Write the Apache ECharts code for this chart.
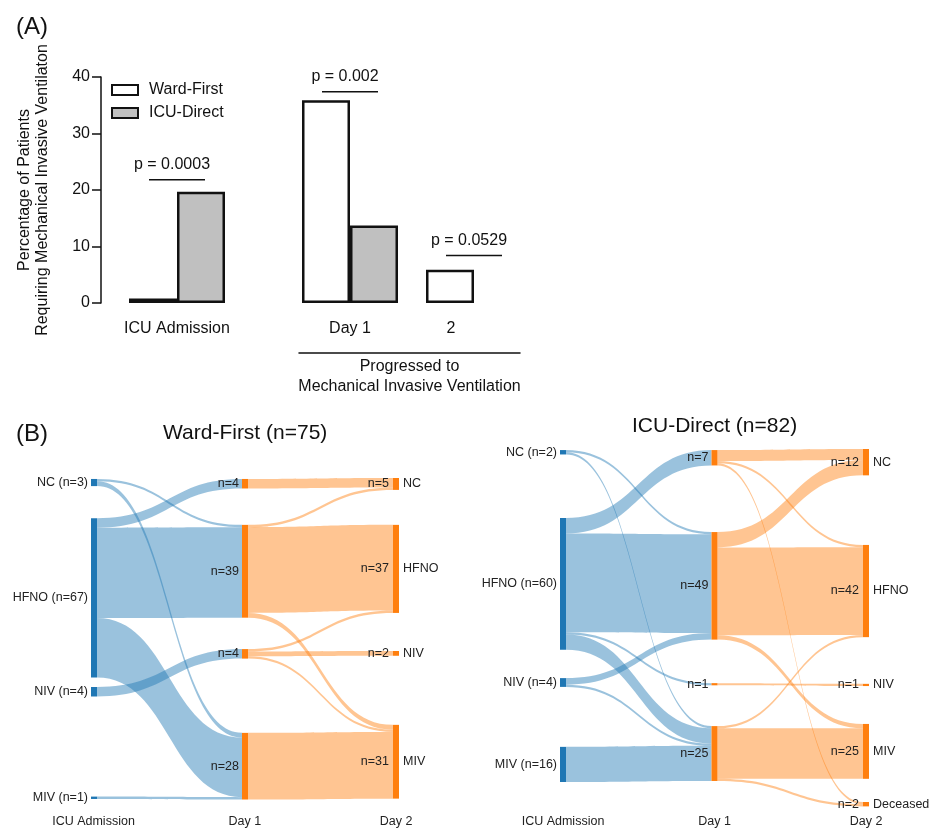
<!DOCTYPE html>
<html>
<head>
<meta charset="utf-8">
<script src="https://cdn.jsdelivr.net/npm/echarts@6/dist/echarts.min.js"></script>
<style>
  html, body { margin: 0; padding: 0; background: #fff; }
  #chart { width: 932px; height: 832px; }
</style>
</head>
<body>
<div id="chart"></div>
<script>
// (A) bar chart data — % of patients requiring mechanical invasive ventilation
const admissionCats = ["ICU Admission"];
const progressCats = ["Day 1", "2"];
const wardFirstAdmission = [0.8];
const icuDirectAdmission = [19.7];
const wardFirstProgressed = [35.9, 5.9];
const icuDirectProgressed = [13.7, null];
// p-value brackets: [category index, height (%)]
const pAdmission = [[0, 21.8]];
const pAdmissionText = ["p = 0.0003"];
const pProgressed = [[0, 37.4], [1, 8.4]];
const pProgressedText = ["p = 0.002", "p = 0.0529"];

// (B) sankey data
const columns = ["ICU Admission", "Day 1", "Day 2"];
const states = ["NC", "HFNO", "NIV", "MIV"];
const icuDay2States = ["NC", "HFNO", "NIV", "MIV", "Deceased"];

const wardAdmissionN = [3, 67, 4, 1];
const wardDay1N = [4, 39, 4, 28];
const wardDay2N = [5, 37, 2, 31];
const wardFlowsDay1 = [
  ["NC", "HFNO", 1], ["NC", "MIV", 2],
  ["HFNO", "NC", 4], ["HFNO", "HFNO", 38], ["HFNO", "MIV", 25],
  ["NIV", "NIV", 4],
  ["MIV", "MIV", 1]
];
const wardFlowsDay2 = [
  ["NC", "NC", 4],
  ["HFNO", "NC", 1], ["HFNO", "HFNO", 36], ["HFNO", "MIV", 2],
  ["NIV", "HFNO", 1], ["NIV", "NIV", 2], ["NIV", "MIV", 1],
  ["MIV", "MIV", 28]
];

const icuAdmissionN = [2, 60, 4, 16];
const icuDay1N = [7, 49, 1, 25];
const icuDay2N = [12, 42, 1, 25, 2];
const icuFlowsDay1 = [
  ["NC", "HFNO", 1], ["NC", "MIV", 1],
  ["HFNO", "NC", 7], ["HFNO", "HFNO", 45], ["HFNO", "NIV", 1], ["HFNO", "MIV", 7],
  ["NIV", "HFNO", 3], ["NIV", "MIV", 1],
  ["MIV", "MIV", 16]
];
const icuFlowsDay2 = [
  ["NC", "NC", 5], ["NC", "HFNO", 1], ["NC", "Deceased", 1],
  ["HFNO", "NC", 7], ["HFNO", "HFNO", 40], ["HFNO", "MIV", 2],
  ["NIV", "NIV", 1],
  ["MIV", "HFNO", 1], ["MIV", "MIV", 23], ["MIV", "Deceased", 1]
];

// node placement (top of each node as a fraction of the sankey height), per column
const wardNodeTop = [[0.003, 0.125, 0.651, 0.9925], [0.003, 0.146, 0.533, 0.794], [0, 0.146, 0.539, 0.769]];
const icuNodeTop = [[0.003, 0.193, 0.640, 0.832], [0.003, 0.232, 0.654, 0.774], [0, 0.268, 0.656, 0.768, 0.986]];

const FONT = "'Liberation Sans', Arial, sans-serif";
const INK = "#111";
const BLUE = "#1f77b4";
const ORANGE = "#ff7f0e";
const LABEL_SIZE = 12.5;

// rich labels on Day 2 nodes: "n=.." left of the node, state name right of it
const measureCtx = document.createElement("canvas").getContext("2d");
function textW(s) {
  measureCtx.font = LABEL_SIZE + "px 'Liberation Sans'";
  return measureCtx.measureText(s).width;
}
function twoSided(left, right) {
  const d = textW(left) - textW(right);
  const pad = "{p" + Math.round(Math.abs(d) * 10) + "| }";
  const core = "{l|" + left + "}{g| }{r|" + right + "}";
  return d < 0 ? pad + core : core + pad;
}

function sankeySeries(box, tops, admN, d1N, d2N, d2States, flows1, flows2) {
  const nodes = [];
  const rich = {};
  const txt = { fontSize: LABEL_SIZE, color: "#222", fontFamily: FONT };
  admN.forEach((n, i) => nodes.push({
    name: "A " + states[i], localY: tops[0][i],
    itemStyle: { color: BLUE },
    label: { position: "left", formatter: states[i] + " (n=" + n + ")" }
  }));
  d1N.forEach((n, i) => nodes.push({
    name: "D1 " + states[i], localY: tops[1][i],
    itemStyle: { color: ORANGE },
    label: { position: "left", formatter: "n=" + n }
  }));
  d2N.forEach((n, i) => {
    const f = twoSided("n=" + n, d2States[i]);
    const m = f.match(/\{p(\d+)\|/);
    rich["p" + m[1]] = Object.assign({ width: Number(m[1]) / 10 }, txt);
    nodes.push({
      name: "D2 " + d2States[i], localY: tops[2][i],
      itemStyle: { color: ORANGE },
      label: { position: "inside", formatter: f }
    });
  });
  rich.l = Object.assign({}, txt);
  rich.r = Object.assign({}, txt);
  rich.g = Object.assign({ width: 14 }, txt);
  const links = flows1.map(([s, t, v]) => ({ source: "A " + s, target: "D1 " + t, value: v }))
    .concat(flows2.map(([s, t, v]) => ({ source: "D1 " + s, target: "D2 " + t, value: v })));
  return {
    type: "sankey",
    left: box.left, top: box.top, width: box.width, height: box.height,
    nodeWidth: 6,
    nodeGap: box.gap,
    layoutIterations: 0,
    nodeAlign: "justify",
    draggable: false,
    emphasis: { disabled: true },
    itemStyle: { borderWidth: 0 },
    lineStyle: { color: "source", opacity: 0.45, curveness: 0.5 },
    label: Object.assign({ show: true, distance: 3, textBorderWidth: 0, rich: rich }, txt),
    data: nodes,
    links: links
  };
}

function renderBracket(texts) {
  return function (params, api) {
    const p = api.coord([api.value(0), api.value(1)]);
    return {
      type: "group",
      children: [
        { type: "line", shape: { x1: p[0] - 28, y1: p[1], x2: p[0] + 28, y2: p[1] },
          style: { stroke: INK, lineWidth: 1.5 } },
        { type: "text", x: p[0] - 5, y: p[1] - 15,
          style: { text: texts[params.dataIndex], fill: INK, fontSize: 16, fontFamily: FONT,
            align: "center", verticalAlign: "middle" } }
      ]
    };
  };
}

const barStyle = (fill) => ({ color: fill, borderColor: INK, borderWidth: 2.5 });
const hiddenY = (gi) => ({ type: "value", gridIndex: gi, min: 0, max: 40, show: false });
const colAxis = (gi) => ({
  type: "category", gridIndex: gi, data: columns, boundaryGap: false,
  axisLine: { show: false }, axisTick: { show: false },
  axisLabel: { color: "#222", fontSize: LABEL_SIZE, fontFamily: FONT, margin: 5 }
});

const chart = echarts.init(document.getElementById("chart"), null, { renderer: "canvas" });
chart.setOption({
  animation: false,
  backgroundColor: "#fff",
  textStyle: { fontFamily: FONT },
  title: [
    { text: "(A)", left: 11, top: 10, textStyle: { fontSize: 24, fontWeight: "normal", color: INK, fontFamily: FONT } },
    { text: "(B)", left: 11, top: 417, textStyle: { fontSize: 24, fontWeight: "normal", color: INK, fontFamily: FONT } },
    { text: "Ward-First (n=75)", left: 158, top: 418, textStyle: { fontSize: 21, fontWeight: "normal", color: INK, fontFamily: FONT } },
    { text: "ICU-Direct (n=82)", left: 627, top: 411, textStyle: { fontSize: 21, fontWeight: "normal", color: INK, fontFamily: FONT } }
  ],
  legend: {
    data: ["Ward-First", "ICU-Direct"],
    orient: "vertical", left: 111, top: 81, padding: 0,
    itemWidth: 26, itemHeight: 10, itemGap: 5,
    icon: "rect",
    itemStyle: { borderWidth: 2, borderColor: INK },
    textStyle: { fontSize: 16, color: INK, fontFamily: FONT, lineHeight: 18, padding: [0, 0, 0, 6] }
  },
  grid: [
    { left: 101, top: 77, width: 152, height: 226 },
    { left: 288, top: 77, width: 248, height: 226 },
    { left: 299, top: 77, width: 221, height: 226 },
    { left: 93.5, top: 790, width: 302.5, height: 20 },
    { left: 563, top: 790, width: 303, height: 20 }
  ],
  xAxis: [
    { type: "category", gridIndex: 0, data: admissionCats,
      axisLine: { show: false }, axisTick: { show: false },
      axisLabel: { color: INK, fontSize: 16, fontFamily: FONT, margin: 18 } },
    { type: "category", gridIndex: 1,
      data: [progressCats[0], { value: progressCats[1], textStyle: { padding: [0, 46, 0, 0] } }],
      axisLine: { show: false }, axisTick: { show: false },
      axisLabel: { color: INK, fontSize: 16, fontFamily: FONT, margin: 18 } },
    { type: "value", gridIndex: 2, min: 0, max: 1, offset: 50,
      axisLine: { show: true, onZero: false, lineStyle: { color: INK, width: 1.5 } },
      axisTick: { show: false }, axisLabel: { show: false }, splitLine: { show: false },
      name: "Progressed to\nMechanical Invasive Ventilation",
      nameLocation: "middle", nameGap: 4,
      nameTextStyle: { color: INK, fontSize: 16, fontFamily: FONT, lineHeight: 19.5, verticalAlign: "top" } },
    colAxis(3),
    colAxis(4)
  ],
  yAxis: [
    { type: "value", gridIndex: 0, min: 0, max: 40, interval: 10,
      axisLine: { show: true, lineStyle: { color: INK, width: 1.5 } },
      axisTick: { show: true, length: 9, lineStyle: { color: INK, width: 1.5 } },
      axisLabel: { color: INK, fontSize: 16, fontFamily: FONT, margin: 11 },
      splitLine: { show: false },
      name: "Percentage of Patients\nRequiring Mechanical Invasive Ventilaton",
      nameLocation: "middle", nameGap: 49,
      nameTextStyle: { color: INK, fontSize: 16, fontFamily: FONT, lineHeight: 18 } },
    hiddenY(1), hiddenY(2), hiddenY(3), hiddenY(4)
  ],
  series: [
    { name: "Ward-First", type: "bar", xAxisIndex: 0, yAxisIndex: 0, data: wardFirstAdmission,
      barWidth: 48, barGap: "0%", itemStyle: barStyle("#ffffff") },
    { name: "ICU-Direct", type: "bar", xAxisIndex: 0, yAxisIndex: 0, data: icuDirectAdmission,
      barWidth: 48, barGap: "0%", itemStyle: barStyle("#c0c0c0") },
    { name: "Ward-First", type: "bar", xAxisIndex: 1, yAxisIndex: 1, data: wardFirstProgressed,
      barWidth: 48, barGap: "0%", itemStyle: barStyle("#ffffff") },
    { name: "ICU-Direct", type: "bar", xAxisIndex: 1, yAxisIndex: 1, data: icuDirectProgressed,
      barWidth: 48, barGap: "0%", itemStyle: barStyle("#c0c0c0") },
    { type: "custom", xAxisIndex: 0, yAxisIndex: 0, data: pAdmission, renderItem: renderBracket(pAdmissionText), silent: true },
    { type: "custom", xAxisIndex: 1, yAxisIndex: 1, data: pProgressed, renderItem: renderBracket(pProgressedText), silent: true },
    sankeySeries({ left: 91, top: 478, width: 308, height: 321, gap: 47.5 }, wardNodeTop,
      wardAdmissionN, wardDay1N, wardDay2N, states, wardFlowsDay1, wardFlowsDay2),
    sankeySeries({ left: 560, top: 449, width: 309, height: 358, gap: 44.5 }, icuNodeTop,
      icuAdmissionN, icuDay1N, icuDay2N, icuDay2States, icuFlowsDay1, icuFlowsDay2)
  ]
});
</script>
</body>
</html>
